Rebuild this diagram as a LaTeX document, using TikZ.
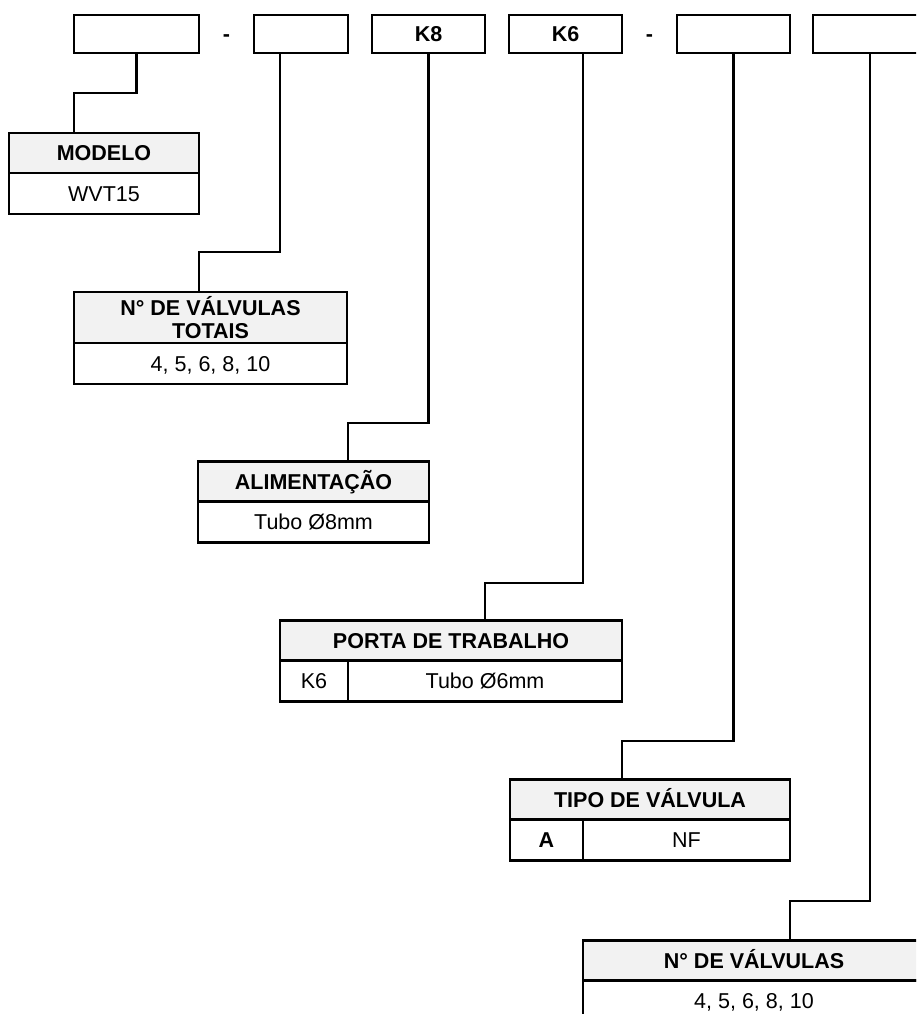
\documentclass[tikz,border=0pt]{standalone}
\usepackage{fontspec}
\setmainfont{Liberation Sans}
\usepackage{tikz}
\usetikzlibrary{calc}
\usetikzlibrary{positioning}
\definecolor{headgray}{RGB}{242, 242, 242}
\newcommand{\codefont}{\fontsize{21.5}{23}\selectfont}

\tikzset{
  slot/.style={draw, line width=2.2pt, outer sep=0pt, inner sep=0pt,
               minimum height=38pt, font=\codefont\bfseries,
               text height=15.4pt, text depth=0pt},
  hyph/.style={inner sep=0pt, font=\codefont\bfseries,
               text height=15.4pt, text depth=0pt},
  head/.style={draw, line width=2.2pt, fill=headgray, outer sep=0pt, inner sep=0pt,
               minimum height=40pt, font=\codefont\bfseries,
               text height=15.4pt, text depth=0pt},
  headtwo/.style={draw, line width=2.2pt, fill=headgray, outer sep=0pt, inner sep=0pt,
                  minimum height=51pt, font=\codefont\bfseries, align=center},
  cell/.style={draw, line width=2.2pt, outer sep=0pt, inner sep=0pt,
               minimum height=41pt, font=\codefont,
               text height=15.4pt, text depth=0pt},
  link/.style={line width=2.2pt}
}

\begin{document}
\begin{tikzpicture}[x=1pt, y=-1pt]
    \path[use as bounding box, clip] (0,0) rectangle (916,1014);
    % Code boxes
    \node[slot, minimum width=125pt]                  (b1) at (136.5,34) {};
    \node[slot, minimum width=94pt,  right=55pt of b1] (b2) {};
    \node[slot, minimum width=113pt, right=24pt of b2] (b3) {K8};
    \node[slot, minimum width=113pt, right=24pt of b3] (b4) {K6};
    \node[slot, minimum width=113pt, right=55pt of b4] (b5) {};
    \node[slot, minimum width=114pt, right=23pt of b5] (b6) {};
    \node[hyph] (d1) at ($(b1.east)!0.5!(b2.west)$) {-};
    \node[hyph] (d2) at ($(b4.east)!0.5!(b5.west)$) {-};
    % MODELO
    \node[head, minimum width=190pt]                 (mdH) at (104,153) {MODELO};
    \node[cell, minimum width=190pt, below=0pt of mdH] (mdV) {WVT15};
    % Valvulas totais
    \node[headtwo, minimum width=273pt]              (nvH) at (210.5,317.5) {N° DE VÁLVULAS\\TOTAIS};
    \node[cell, minimum width=273pt, below=0pt of nvH] (nvV) {4, 5, 6, 8, 10};
    % Alimentacao
    \node[head, minimum width=231pt]                 (alH) at (313.5,481.5) {ALIMENTAÇÃO};
    \node[cell, minimum width=231pt, below=0pt of alH] (alV) {Tubo Ø8mm};
    % Porta de trabalho
    \node[head, minimum width=342pt]                 (ptH) at (451,640.5) {PORTA DE TRABALHO};
    \node[cell, minimum width=68pt, below right=0pt and 0pt of ptH.south west, anchor=north west] (ptK) {K6};
    \node[cell, minimum width=274pt, right=0pt of ptK] (ptV) {Tubo Ø6mm};
    % Tipo de valvula
    \node[head, minimum width=280pt]                 (tpH) at (650,799.5) {TIPO DE VÁLVULA};
    \node[cell, minimum width=73pt, below right=0pt and 0pt of tpH.south west, anchor=north west, font=\codefont\bfseries] (tpK) {A};
    \node[cell, minimum width=207pt, right=0pt of tpK] (tpV) {NF};
    % Valvulas
    \node[head, minimum width=342pt]                 (nbH) at (754,960.5) {N° DE VÁLVULAS};
    \node[cell, minimum width=342pt, below=0pt of nbH] (nbV) {4, 5, 6, 8, 10};
    % Connectors
    \draw[link] (b1.south)               -- ++(0,40)  -| ([xshift=65pt]mdH.north west);
    \draw[link] ([xshift=-21pt]b2.south) -- ++(0,199) -| ([xshift=125pt]nvH.north west);
    \draw[link] (b3.south)               -- ++(0,370) -| ([xshift=150pt]alH.north west);
    \draw[link] ([xshift=17.5pt]b4.south) -- ++(0,530) -| ([xshift=205pt]ptH.north west);
    \draw[link] (b5.south)               -- ++(0,688) -| ([xshift=112pt]tpH.north west);
    \draw[link] (b6.south)               -- ++(0,848) -| ([xshift=207pt]nbH.north west);
\end{tikzpicture}
\end{document}
